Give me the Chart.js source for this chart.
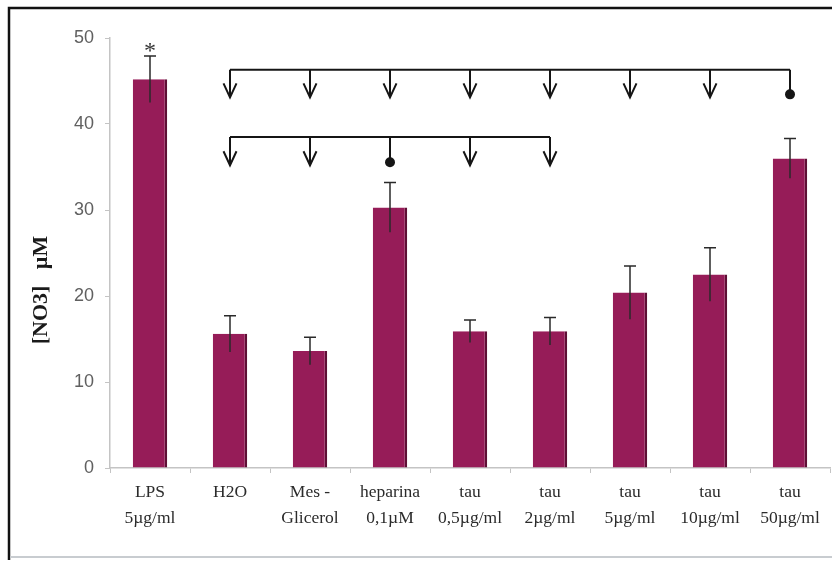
<!DOCTYPE html>
<html>
<head>
<meta charset="utf-8">
<script src="https://cdn.jsdelivr.net/npm/chart.js@4/dist/chart.umd.min.js"></script>
<style>
  html, body { margin: 0; padding: 0; background: #fff; }
  #wrap { width: 832px; height: 563px; }
</style>
</head>
<body>
<div id="wrap"><canvas id="chart" width="832" height="563"></canvas></div>
<script>
const labels = [
    ['LPS', '5\u00b5g/ml'],
    ['H2O', ''],
    ['Mes -', 'Glicerol'],
    ['heparina', '0,1\u00b5M'],
    ['tau', '0,5\u00b5g/ml'],
    ['tau', '2\u00b5g/ml'],
    ['tau', '5\u00b5g/ml'],
    ['tau', '10\u00b5g/ml'],
    ['tau', '50\u00b5g/ml']
];
const means = [45.2, 15.6, 13.6, 30.3, 15.9, 15.9, 20.4, 22.5, 36.0];
const errors = [2.7, 2.1, 1.6, 2.9, 1.3, 1.6, 3.1, 3.1, 2.3];
const yTicks = [0, 10, 20, 30, 40, 50];

// comparison brackets: which bars, bracket height, and which bar is the reference (dot)
const bracketTop = { bars: [1, 2, 3, 4, 5, 6, 7, 8], level: 46.3, tip: 43.1, ref: 8 };
const bracketLow = { bars: [1, 2, 3, 4, 5], level: 38.5, tip: 35.2, ref: 3 };
const starredBars = [0];

const ctx = document.getElementById('chart').getContext('2d');

const framePlugin = {
    id: 'frame',
    beforeDraw(chart) {
        const c = chart.ctx;
        c.save();
        c.fillStyle = '#fff';
        c.fillRect(0, 0, chart.width, chart.height);
        c.strokeStyle = '#111';
        c.lineWidth = 2.5;
        c.beginPath();
        c.moveTo(9, 560);
        c.lineTo(9, 8);
        c.lineTo(832, 8);
        c.stroke();
        c.strokeStyle = '#c8ccd0';
        c.lineWidth = 2;
        c.beginPath();
        c.moveTo(10, 557);
        c.lineTo(832, 557);
        c.stroke();
        c.restore();
    }
};

const extrasPlugin = {
    id: 'extras',
    afterDatasetsDraw(chart) {
        const c = chart.ctx;
        const x = chart.scales.x;
        const y = chart.scales.y;
        c.save();

        // error bars
        c.strokeStyle = '#2a2a2a';
        c.lineWidth = 1.5;
        means.forEach((m, i) => {
            const px = x.getPixelForValue(i);
            const top = y.getPixelForValue(m + errors[i]);
            const bot = y.getPixelForValue(m - errors[i]);
            c.beginPath();
            c.moveTo(px, bot);
            c.lineTo(px, top);
            c.moveTo(px - 6, top);
            c.lineTo(px + 6, top);
            c.stroke();
        });

        // significance star
        c.fillStyle = '#333';
        c.font = '24px "Liberation Serif", serif';
        c.textAlign = 'center';
        c.textBaseline = 'alphabetic';
        starredBars.forEach(i => {
            const px = x.getPixelForValue(i);
            const top = y.getPixelForValue(means[i] + errors[i]);
            c.fillText('*', px, top + 2);
        });

        // brackets
        c.strokeStyle = '#151515';
        c.fillStyle = '#151515';
        c.lineWidth = 2;
        [bracketTop, bracketLow].forEach(b => {
            const ly = y.getPixelForValue(b.level);
            const ty = y.getPixelForValue(b.tip);
            const x0 = x.getPixelForValue(b.bars[0]);
            const x1 = x.getPixelForValue(b.bars[b.bars.length - 1]);
            c.beginPath();
            c.moveTo(x0, ly);
            c.lineTo(x1, ly);
            c.stroke();
            b.bars.forEach(i => {
                const px = x.getPixelForValue(i);
                c.beginPath();
                if (i === b.ref) {
                    c.moveTo(px, ly);
                    c.lineTo(px, ty - 3);
                    c.stroke();
                    c.beginPath();
                    c.arc(px, ty - 3, 5, 0, Math.PI * 2);
                    c.fill();
                } else {
                    c.moveTo(px, ly);
                    c.lineTo(px, ty);
                    c.moveTo(px - 6.5, ty - 14);
                    c.lineTo(px, ty);
                    c.lineTo(px + 6.5, ty - 14);
                    c.stroke();
                }
            });
        });

        // y axis title
        c.translate(41, 290);
        c.rotate(-Math.PI / 2);
        c.fillStyle = '#1a1a1a';
        c.font = 'bold 22px "Liberation Serif", serif';
        c.textAlign = 'center';
        c.textBaseline = 'middle';
        c.fillText('[NO3]   \u00b5M', 0, 0);
        c.restore();
    }
};

const chart = new Chart(ctx, {
    type: 'bar',
    data: {
        labels: labels,
        datasets: [{
            data: means,
            backgroundColor: '#961c58',
            borderColor: '#5e0f35',
            borderWidth: { top: 0, left: 0, bottom: 0, right: 2.5 },
            borderSkipped: false,
            barPercentage: 0.43,
            categoryPercentage: 1
        }]
    },
    options: {
        responsive: false,
        animation: false,
        layout: { padding: { top: 38, right: 2, left: 0, bottom: 0 } },
        plugins: {
            legend: { display: false },
            tooltip: { enabled: false }
        },
        scales: {
            x: {
                grid: { drawOnChartArea: false, tickLength: 5, color: '#c4c4c4', offset: true },
                border: { color: '#c4c4c4', width: 1.5 },
                ticks: {
                    color: '#2b2b2b',
                    font: { family: '"Liberation Serif", serif', size: 17.5, lineHeight: 1.5 },
                    padding: 6,
                    maxRotation: 0,
                    autoSkip: false
                },
                afterFit(scale) { scale.height = 95; }
            },
            y: {
                min: 0,
                max: 50,
                afterBuildTicks(scale) { scale.ticks = yTicks.map(v => ({ value: v })); },
                grid: { drawOnChartArea: false, tickLength: 5, color: '#c4c4c4' },
                border: { color: '#c4c4c4', width: 1.5 },
                ticks: {
                    color: '#606060',
                    font: { family: '"Liberation Sans", Arial, sans-serif', size: 18 },
                    padding: 11
                },
                afterFit(scale) { scale.width = 110; }
            }
        }
    },
    plugins: [framePlugin, extrasPlugin]
});
</script>
</body>
</html>
